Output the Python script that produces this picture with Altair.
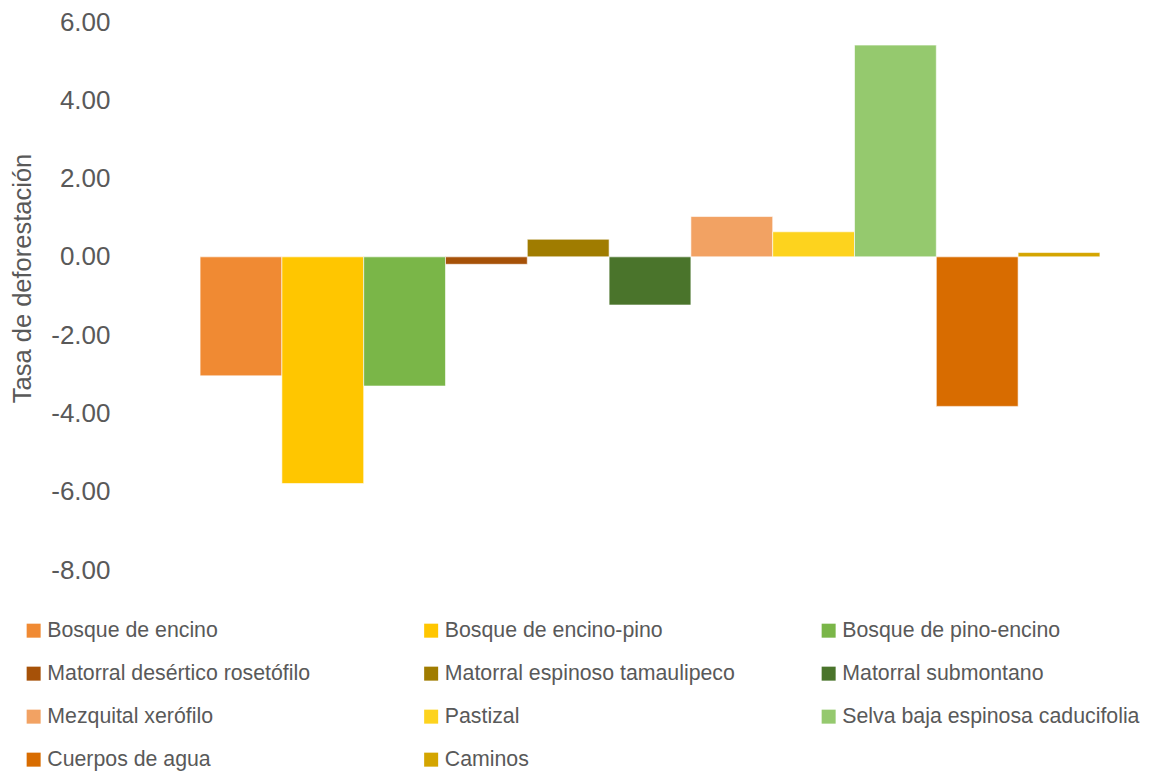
import altair as alt
import pandas as pd

categories = [
    "Bosque de encino", "Bosque de encino-pino", "Bosque de pino-encino",
    "Matorral desértico rosetófilo", "Matorral espinoso tamaulipeco",
    "Matorral submontano", "Mezquital xerófilo", "Pastizal",
    "Selva baja espinosa caducifolia", "Cuerpos de agua", "Caminos",
]
values = [-3.04, -5.79, -3.30, -0.19, 0.45, -1.23, 1.03, 0.64, 5.41, -3.82, 0.11]
colors = ["#F08A33", "#FFC600", "#7AB648", "#A65108", "#A07C00", "#4A742B",
          "#F2A263", "#FDD31E", "#95C96E", "#D86C00", "#D4A500"]
y_ticks = [-8, -6, -4, -2, 0, 2, 4, 6]

df = pd.DataFrame({"Tipo": categories, "Tasa": values})

FONT = "Liberation Sans, Arial, sans-serif"
GREY = "#595959"

chart = alt.Chart(df).mark_bar(stroke="#FFFFFF", strokeWidth=0.6).encode(
    x=alt.X("Tipo:N", sort=categories,
            scale=alt.Scale(paddingInner=0, paddingOuter=0.49),
            axis=None),
    y=alt.Y("Tasa:Q",
            scale=alt.Scale(domain=[-8, 6], nice=False, zero=False),
            axis=alt.Axis(values=y_ticks, title="Tasa de deforestación",
                          labelExpr="replace(format(datum.value, '.2f'), '\u2212', '-')",
                          grid=False, domain=False, ticks=False,
                          labelPadding=50, labelFontSize=26, labelColor=GREY,
                          labelFont=FONT, titleFont=FONT, titleFontSize=25.5,
                          titleFontWeight="normal", titleColor=GREY,
                          titleAngle=-90, titleX=-138, titleY=256,
                          titleAlign="center", titleBaseline="middle")),
    color=alt.Color("Tipo:N", sort=categories,
                    scale=alt.Scale(domain=categories, range=colors),
                    legend=alt.Legend(title=None, orient="none", legendX=-137, legendY=598,
                                      direction="horizontal",
                                      columns=3, gridAlign="all", columnPadding=75.5,
                                      rowPadding=21, symbolType="square", symbolSize=196,
                                      symbolStrokeWidth=0, labelFont=FONT,
                                      labelFontSize=21.3, labelColor=GREY,
                                      labelOffset=3, labelLimit=400)),
).properties(
    width=980, height=548,
    autosize=alt.AutoSizeParams(type="none"),
    padding={"left": 152, "top": 14, "right": 3, "bottom": 202},
).configure_view(stroke=None)

chart.save("out.html", embed_options={"renderer": "svg", "actions": False})
